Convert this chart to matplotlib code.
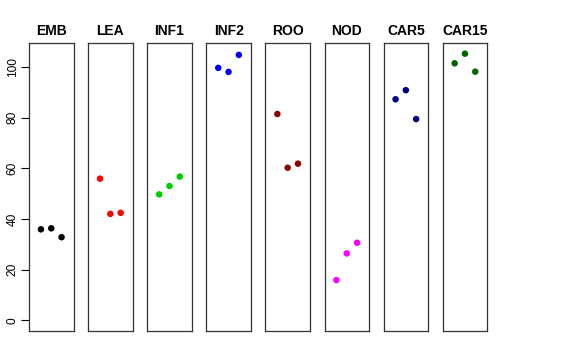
import matplotlib
matplotlib.use("Agg")
import matplotlib.pyplot as plt

plt.rcParams["font.family"] = ["Liberation Sans", "DejaVu Sans"]

tissues = ["EMB", "LEA", "INF1", "INF2", "ROO", "NOD", "CAR5", "CAR15"]
colors = ["black", "#FF0000", "#00CD00", "#0000FF", "#8B0000", "#FF00FF", "#00008B", "#006400"]
replicate = [1, 2, 3]
values = [
    [35.9, 36.3, 32.8],
    [55.9, 42.0, 42.4],
    [49.7, 53.0, 56.7],
    [99.6, 98.0, 104.7],
    [81.4, 60.2, 61.8],
    [15.9, 26.4, 30.6],
    [87.2, 90.8, 79.4],
    [101.4, 105.2, 98.1],
]
yticks = [0, 20, 40, 60, 80, 100]

W, H = 576, 360
fig = plt.figure(figsize=(W / 100, H / 100), dpi=100)

ymax = max(max(v) for v in values)
pad = ymax * 0.04

for i, (name, col, vals) in enumerate(zip(tissues, colors, values)):
    left = 29 + i * 59.1
    ax = fig.add_axes([left / W, 1 - 331 / H, 44.5 / W, 288 / H])
    ax.scatter(replicate, vals, s=22, color=col, edgecolors="none", zorder=3)
    ax.set_xlim(-0.16, 4.16)
    ax.set_ylim(-pad, ymax + pad)
    ax.set_xticks([])
    for sp in ax.spines.values():
        sp.set_linewidth(0.9)
        sp.set_color("#333333")
    ax.set_title(name, fontsize=10, fontweight="bold", pad=6)
    if i == 0:
        ax.set_yticks(yticks)
        ax.set_yticklabels([str(t) for t in yticks], rotation=90, va="center")
        ax.tick_params(axis="y", length=5.5, width=0.8, pad=2, labelsize=8.6)
    else:
        ax.set_yticks([])

fig.savefig("out.png", dpi=100)
